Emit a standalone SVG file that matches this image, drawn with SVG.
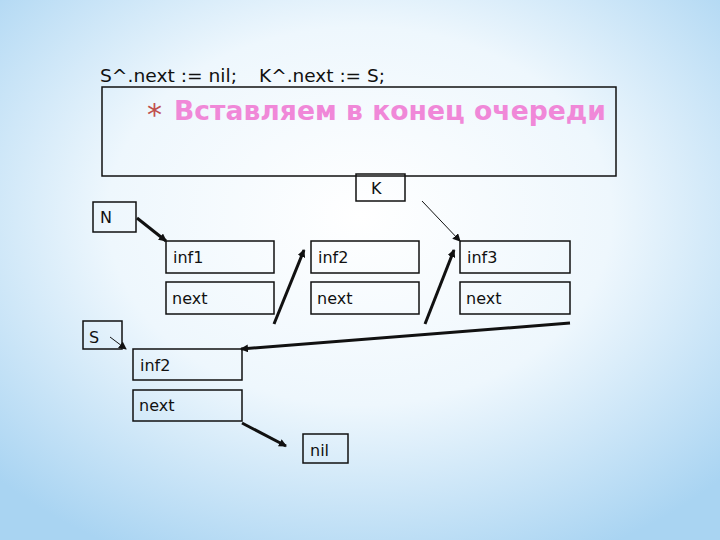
<svg xmlns="http://www.w3.org/2000/svg" width="720" height="540" viewBox="0 0 720 540">
<defs>
<radialGradient id="bg" cx="50%" cy="40%" r="70%">
<stop offset="0" stop-color="#ffffff"/><stop offset="0.5" stop-color="#eef7fd"/><stop offset="1" stop-color="#a9d4f2"/>
</radialGradient>
<marker id="ah" markerWidth="8" markerHeight="8" refX="7" refY="4" orient="auto" markerUnits="userSpaceOnUse"><path d="M0,0 L8,4 L0,8 z" fill="#111"/></marker>
<style>
.b{fill:none;stroke:#111;stroke-width:1.5}
.t{font-family:"DejaVu Sans",sans-serif;font-size:16px;fill:#111}
.th{stroke:#111;stroke-width:3;marker-end:url(#ah)}
.tn{stroke:#111;stroke-width:1;marker-end:url(#ah)}
</style>
</defs>
<rect width="720" height="540" fill="url(#bg)"/>
<text x="100" y="82" class="t" textLength="137" lengthAdjust="spacingAndGlyphs" style="font-size:17px">S^.next := nil;</text>
<text x="259" y="82" class="t" textLength="126" lengthAdjust="spacingAndGlyphs" style="font-size:17px">K^.next := S;</text>
<g id="title"><rect x="102" y="87" width="514" height="89" class="b"/>
<text x="147" y="125" style="font-family:'DejaVu Sans',sans-serif;font-size:30px;fill:#c0504d">*</text>
<text x="174" y="120" textLength="432" lengthAdjust="spacingAndGlyphs" style="font-family:'DejaVu Sans',sans-serif;font-size:26px;font-weight:bold;fill:#f088d8">Вставляем в конец очереди</text></g>
<g id="K"><rect x="356" y="174" width="49" height="27" class="b"/><text x="371" y="194" class="t">K</text></g>
<g id="N"><rect x="93" y="202" width="43" height="30" class="b"/><text x="100" y="223" class="t">N</text></g>
<g id="n1"><rect x="166" y="241" width="108" height="32" class="b"/><text x="173" y="263" class="t">inf1</text>
<rect x="166" y="282" width="108" height="32" class="b"/><text x="172" y="304" class="t">next</text></g>
<g id="n2"><rect x="311" y="241" width="108" height="32" class="b"/><text x="318" y="263" class="t">inf2</text>
<rect x="311" y="282" width="108" height="32" class="b"/><text x="317" y="304" class="t">next</text></g>
<g id="n3"><rect x="460" y="241" width="110" height="32" class="b"/><text x="467" y="263" class="t">inf3</text>
<rect x="460" y="282" width="110" height="32" class="b"/><text x="466" y="304" class="t">next</text></g>
<g id="S"><rect x="83" y="321" width="39" height="28" class="b"/><text x="89" y="343" class="t">S</text></g>
<g id="n4"><rect x="133" y="349" width="109" height="31" class="b"/><text x="140" y="371" class="t">inf2</text>
<rect x="133" y="390" width="109" height="31" class="b"/><text x="139" y="411" class="t">next</text></g>
<g id="nil"><rect x="303" y="434" width="45" height="29" class="b"/><text x="310" y="456" class="t">nil</text></g>
<g id="connectors">
<line x1="137" y1="218" x2="166" y2="241" class="th"/>
<line x1="274" y1="324" x2="304" y2="250" class="th"/>
<line x1="425" y1="324" x2="454" y2="250" class="th"/>
<line x1="422" y1="201" x2="460" y2="241" class="tn"/>
<line x1="110" y1="337" x2="126" y2="349" class="tn"/>
<line x1="570" y1="323" x2="241" y2="349" class="th"/>
<line x1="242" y1="423" x2="286" y2="446" class="th"/>
</g>
</svg>
